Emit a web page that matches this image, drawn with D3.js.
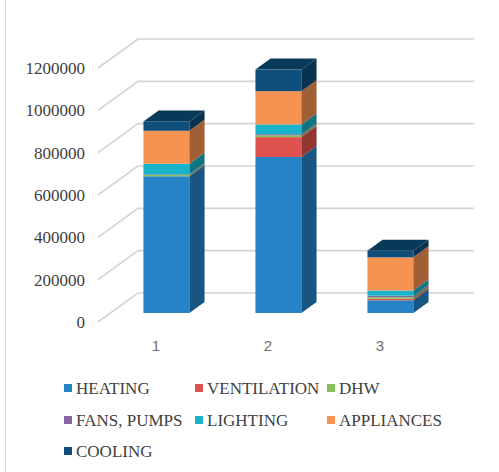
<!DOCTYPE html>
<html>
<head>
<meta charset="utf-8">
<script src="https://cdn.jsdelivr.net/npm/d3@7"></script>
<style>
  html, body { margin: 0; padding: 0; background: #ffffff; }
  svg { display: block; }
</style>
</head>
<body>
<svg id="chart" width="499" height="472"></svg>
<script>
// ---- data ----
const categories = ["1", "2", "3"];
const seriesNames = ["HEATING", "VENTILATION", "DHW", "FANS, PUMPS", "LIGHTING", "APPLIANCES", "COOLING"];
const heating     = [646000, 737000, 60000];
const ventilation = [0, 94000, 7000];
const dhw         = [6000, 9000, 8000];
const fansPumps   = [3000, 5000, 7000];
const lighting    = [50000, 46000, 24000];
const appliances  = [156000, 157000, 157000];
const cooling     = [44000, 102000, 31000];
const yTicks = [0, 200000, 400000, 600000, 800000, 1000000, 1200000];
const colors = ["#2683c6", "#e0524f", "#86c05e", "#8565a8", "#19b4c9", "#f69252", "#0d4f7a"];

const seriesValues = [heating, ventilation, dhw, fansPumps, lighting, appliances, cooling];

// ---- layout ----
const svg = d3.select("#chart");
const frontLeft = 98, frontRight = 434;
const depthX = 40, depthY = -29;       // full floor depth vector
const zFront = 0.31, zBack = 0.69;     // bar depth placement

const x = d3.scaleBand().domain(categories).range([frontLeft, frontRight])
  .paddingInner(0.59).paddingOuter(0.295);
const y = d3.scaleLinear().domain([0, 1200000]).range([322, 68]);

function proj(px, py, z) { return [px + depthX * z, py + depthY * z]; }

// chart border (left edge visible)
svg.append("line").attr("x1", 5.5).attr("x2", 5.5).attr("y1", 0).attr("y2", 472)
  .attr("stroke", "#d9d9d9").attr("stroke-width", 1);

// gridlines (floor diagonal + back wall)
const grid = svg.append("g");
yTicks.forEach(t => {
  const y0 = y(t);
  const [bx, by] = proj(frontLeft, y0, 1);
  const [ex] = proj(frontRight, y0, 1);
  grid.append("path")
    .attr("d", `M${frontLeft},${y0}L${bx},${by}L${ex},${by}`)
    .attr("fill", "none").attr("stroke", "#d4d4d4").attr("stroke-width", 1.6);
});

// y labels
svg.append("g").selectAll("text").data(yTicks).join("text")
  .attr("x", 85).attr("y", d => y(d)).attr("dy", "0.35em")
  .attr("text-anchor", "end")
  .attr("font-family", "'Liberation Serif', 'Times New Roman', serif")
  .attr("font-size", 17).attr("fill", "#404040")
  .text(d => d3.format("d")(d));

// x labels
svg.append("g").selectAll("text").data(categories).join("text")
  .attr("x", d => x(d) + x.bandwidth() / 2 + 2).attr("y", 346).attr("dy", "0.35em")
  .attr("text-anchor", "middle")
  .attr("font-family", "'Liberation Sans', Arial, sans-serif")
  .attr("font-size", 15).attr("fill", "#6f6f6f")
  .text(d => d);

// stacked data
const table = categories.map((c, i) => {
  const row = { cat: c };
  seriesNames.forEach((s, k) => row[s] = seriesValues[k][i]);
  return row;
});
const stacked = d3.stack().keys(seriesNames)(table);

const bars = svg.append("g");
const sideShade = c => d3.rgb(c).darker(1.2).formatHex();
const topShade = c => d3.rgb(c).darker(0.9).formatHex();

categories.forEach((c, i) => {
  const x0 = x(c), x1 = x(c) + x.bandwidth();
  let topK = -1;
  stacked.forEach((layer, k) => {
    const [v0, v1] = layer[i];
    if (v1 - v0 <= 0) return;
    topK = k;
    const col = colors[k];
    const yb = y(v0), yt = y(v1);
    const [fx0, fyb] = proj(x0, yb, zFront);
    const [fx1, fyt] = proj(x1, yt, zFront);
    // front face
    bars.append("rect").attr("x", fx0).attr("y", fyt)
      .attr("width", fx1 - fx0).attr("height", fyb - fyt).attr("fill", col);
    // side face
    const a = proj(x1, yb, zFront), b = proj(x1, yb, zBack),
          cc = proj(x1, yt, zBack), d = proj(x1, yt, zFront);
    bars.append("path").attr("d", `M${a}L${b}L${cc}L${d}Z`).attr("fill", sideShade(col));
  });
  if (topK >= 0) {
    const v1 = stacked[topK][i][1];
    const yt = y(v1);
    const a = proj(x0, yt, zFront), b = proj(x1, yt, zFront),
          cc = proj(x1, yt, zBack), d = proj(x0, yt, zBack);
    bars.append("path").attr("d", `M${a}L${b}L${cc}L${d}Z`).attr("fill", topShade(colors[topK]));
  }
});

// legend
const legendPos = [
  [64, 388], [195, 388], [327, 388],
  [64, 420], [195, 420], [327, 420],
  [64, 451]
];
const legend = svg.append("g");
seriesNames.forEach((s, k) => {
  const [lx, ly] = legendPos[k];
  legend.append("rect").attr("x", lx).attr("y", ly - 4).attr("width", 8).attr("height", 8)
    .attr("fill", colors[k]);
  legend.append("text").attr("x", lx + 12).attr("y", ly).attr("dy", "0.35em")
    .attr("font-family", "'Liberation Serif', 'Times New Roman', serif")
    .attr("font-size", 17).attr("fill", "#404040").text(s);
});
</script>
</body>
</html>
